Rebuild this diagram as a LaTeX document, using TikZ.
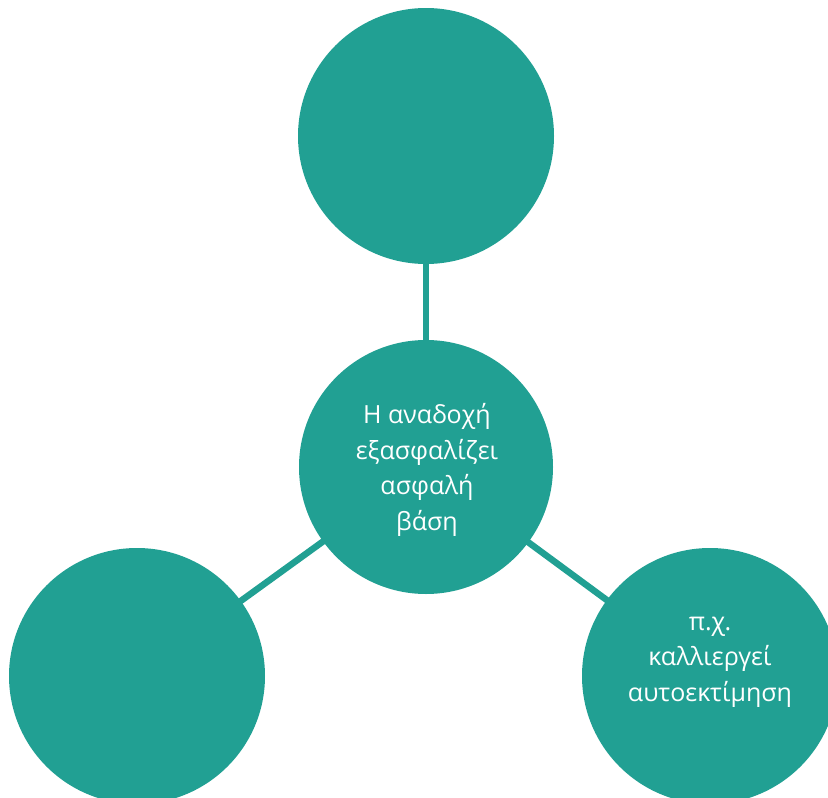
\documentclass[tikz,border=0pt]{standalone}
\usepackage{fontspec}
\setmainfont{Open Sans}
\definecolor{teal1}{RGB}{33,160,147}
\begin{document}
\begin{tikzpicture}[x=1pt,y=-1pt,
  circ/.style={circle,fill=teal1,minimum size=256pt,inner sep=0pt},
  lbl/.style={text=white,align=center,font=\fontsize{25}{35.5}\selectfont},
  conn/.style={draw=teal1,line width=6.5pt}]
\useasboundingbox (0,0) rectangle (828,798);
\begin{scope}
\clip (0,0) rectangle (828,798);
\coordinate (cc) at (426,467);
\draw[conn] (cc) -- (426,136);
\draw[conn] (cc) -- (137,676);
\draw[conn] (cc) -- (710,676);
\node[circ] (top) at (426,136) {};
\node[circ] (bl) at (137,676) {};
\node[circ] (br) at (710,676) {};
\node[lbl] (brt) at (710,662) {π.χ.\\καλλιεργεί\\αυτοεκτίμηση};
\node[circ,minimum size=254pt] (c) at (cc) {};
\node[lbl] (ct) at (427,470) {Η αναδοχή\\εξασφαλίζει\\ασφαλή\\βάση};
\end{scope}
\end{tikzpicture}
\end{document}
